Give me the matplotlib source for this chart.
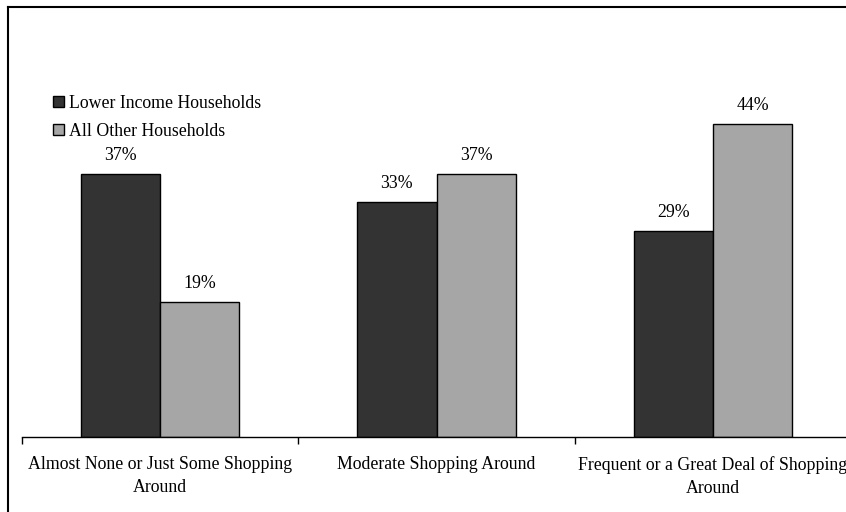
import numpy as np
import matplotlib.pyplot as plt
from matplotlib.lines import Line2D

plt.rcParams['font.family'] = ['Liberation Serif', 'DejaVu Serif']

categories = ['Almost None or Just Some Shopping\nAround',
              'Moderate Shopping Around',
              'Frequent or a Great Deal of Shopping\nAround']
lower_income = [37, 33, 29]
all_other = [19, 37, 44]
series_names = ['Lower Income Households', 'All Other Households']

W, H = 846, 512
fig = plt.figure(figsize=(W / 100, H / 100), dpi=100)

# axes runs past the right edge, like the original
left, right = 21.75, 851.25
base, top = 437, 437 - 50 * 7.12
ax = fig.add_axes([left / W, 1 - base / H, (right - left) / W, (base - top) / H])

x = np.arange(len(categories))
w = 0.287
b1 = ax.bar(x - w / 2, lower_income, w, color='#333333', edgecolor='black', linewidth=1, label=series_names[0])
b2 = ax.bar(x + w / 2, all_other, w, color='#a6a6a6', edgecolor='black', linewidth=1, label=series_names[1])

for bars in (b1, b2):
    for r in bars:
        ax.annotate(f'{r.get_height():.0f}%', (r.get_x() + r.get_width() / 2, r.get_height()),
                    xytext=(0, 7), textcoords='offset points', ha='center', va='bottom', fontsize=12.8)

ax.set_xlim(-0.5, 2.5)
ax.set_ylim(0, 50)
ax.set_yticks([])
for s in ('top', 'right', 'left'):
    ax.spines[s].set_visible(False)
ax.spines['bottom'].set_linewidth(1)
ax.set_xticks([-0.5, 0.5, 1.5, 2.5])
ax.set_xticklabels([])
ax.set_xticks(x, minor=True)
ax.set_xticklabels(categories, minor=True, fontsize=12.8, linespacing=1.4)
ax.tick_params(axis='x', which='major', direction='out', length=5, width=1)
ax.tick_params(axis='x', which='minor', length=0, pad=14)

ax.legend(loc='upper left', bbox_to_anchor=(44 / W, 1 - 86 / H), bbox_transform=fig.transFigure,
          frameon=False, fontsize=12.8, handlelength=0.6, handleheight=0.6, handletextpad=0.3,
          labelspacing=0.6, borderpad=0)

# outer border, only top and left visible
fig.add_artist(Line2D([8 / W, 1], [1 - 7 / H, 1 - 7 / H], color='black', linewidth=1.5, transform=fig.transFigure))
fig.add_artist(Line2D([8 / W, 8 / W], [0, 1 - 7 / H], color='black', linewidth=1.5, transform=fig.transFigure))

fig.savefig('out.png', dpi=100)
